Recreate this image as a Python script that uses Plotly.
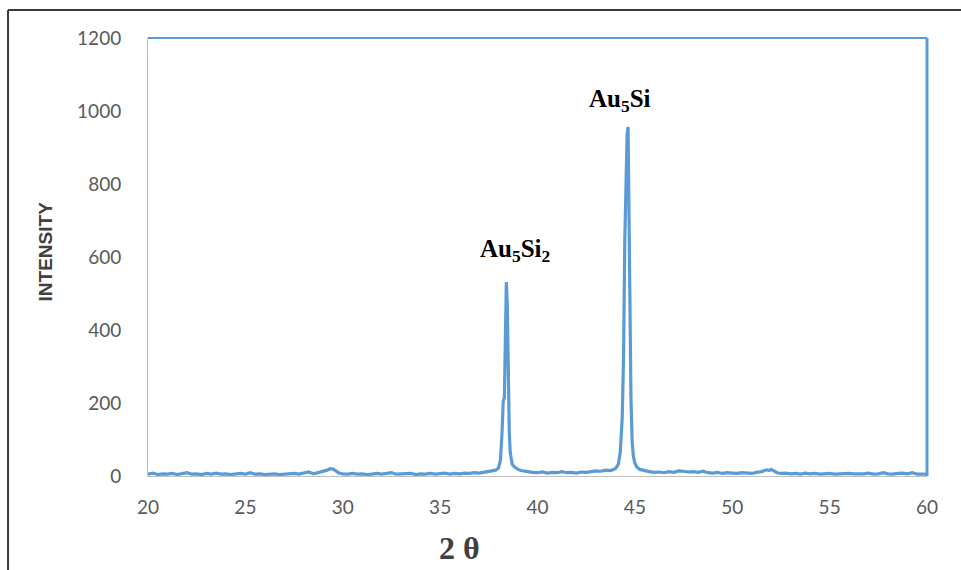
import plotly.graph_objects as go

# XRD scan: diffraction angle (2θ, degrees) and counts
two_theta = [
    20.0, 20.25, 20.5, 20.75, 21.0, 21.25, 21.5, 21.75, 22.0, 22.25, 22.5, 22.75,
    23.0, 23.25, 23.5, 23.75, 24.0, 24.25, 24.5, 24.75, 25.0, 25.25, 25.5, 25.75,
    26.0, 26.25, 26.5, 26.75, 27.0, 27.25, 27.5, 27.75, 28.0, 28.25, 28.5, 28.75,
    29.0, 29.2, 29.35, 29.5, 29.65, 29.8, 30.0, 30.25, 30.5, 30.75, 31.0, 31.25,
    31.5, 31.75, 32.0, 32.25, 32.5, 32.75, 33.0, 33.25, 33.5, 33.75, 34.0, 34.25,
    34.5, 34.75, 35.0, 35.25, 35.5, 35.75, 36.0, 36.25, 36.5, 36.75, 37.0, 37.25,
    37.5, 37.7, 37.85, 38.0, 38.1, 38.18, 38.24, 38.3, 38.35, 38.4, 38.45, 38.5,
    38.55, 38.6, 38.65, 38.7, 38.8, 38.9, 39.0, 39.15, 39.3, 39.5, 39.75, 40.0,
    40.25, 40.5, 40.75, 41.0, 41.25, 41.5, 41.75, 42.0, 42.25, 42.5, 42.75, 43.0,
    43.25, 43.5, 43.75, 44.0, 44.15, 44.25, 44.35, 44.42, 44.48, 44.54, 44.6, 44.65,
    44.7, 44.75, 44.8, 44.86, 44.92, 45.0, 45.1, 45.25, 45.5, 45.75, 46.0, 46.25,
    46.5, 46.75, 47.0, 47.25, 47.5, 47.75, 48.0, 48.25, 48.5, 48.75, 49.0, 49.25,
    49.5, 49.75, 50.0, 50.25, 50.5, 50.75, 51.0, 51.25, 51.5, 51.75, 51.9, 52.0,
    52.15, 52.3, 52.5, 52.75, 53.0, 53.25, 53.5, 53.75, 54.0, 54.25, 54.5, 54.75,
    55.0, 55.25, 55.5, 55.75, 56.0, 56.25, 56.5, 56.75, 57.0, 57.25, 57.5, 57.75,
    58.0, 58.25, 58.5, 58.75, 59.0, 59.25, 59.5, 59.75, 60.0,
]
intensity = [
    5, 8, 4, 6, 5, 7, 4, 6, 9, 5, 6, 4,
    7, 5, 8, 5, 6, 4, 5, 7, 5, 9, 5, 6,
    4, 5, 6, 4, 5, 6, 7, 5, 8, 11, 6, 10,
    12, 16, 20, 19, 14, 8, 6, 5, 7, 5, 6, 4,
    5, 7, 5, 6, 9, 5, 6, 5, 7, 4, 6, 5,
    7, 5, 6, 8, 5, 7, 6, 8, 7, 9, 8, 10,
    11, 13, 16, 22, 45, 120, 205, 215, 390, 531, 470, 250,
    120, 65, 42, 32, 26, 21, 18, 15, 13, 12, 10, 9,
    11, 8, 10, 9, 12, 9, 10, 8, 11, 10, 12, 14,
    13, 16, 15, 20, 32, 65, 160, 330, 640, 820, 935, 956,
    720, 420, 210, 95, 55, 35, 25, 18, 14, 12, 10, 11,
    9, 12, 10, 14, 13, 11, 12, 10, 13, 9, 8, 10,
    7, 9, 8, 7, 9, 8, 7, 10, 12, 17, 15, 18,
    14, 9, 7, 8, 6, 7, 5, 8, 6, 7, 5, 6,
    7, 5, 6, 5, 7, 6, 5, 6, 8, 5, 6, 9,
    6, 5, 7, 8, 6, 9, 5, 6, 5,
]

# Phase labels placed above their reflections
phase_labels = ["Au<sub>5</sub>Si<sub>2</sub>", "Au<sub>5</sub>Si"]
phase_x = [38.85, 44.25]
phase_y = [618, 1030]

x_ticks = [20, 25, 30, 35, 40, 45, 50, 55, 60]
y_ticks = [0, 200, 400, 600, 800, 1000, 1200]

line_blue = "#5b9bd5"
tick_grey = "#595959"

fig = go.Figure()
fig.add_trace(go.Scatter(
    x=two_theta, y=intensity, mode="lines",
    line=dict(color=line_blue, width=3.2), hoverinfo="x+y", showlegend=False,
))

for text, xv, yv in zip(phase_labels, phase_x, phase_y):
    fig.add_annotation(
        x=xv, y=yv, text=f"<b>{text}</b>", showarrow=False,
        xanchor="center", yanchor="middle",
        font=dict(family="Liberation Serif, Times New Roman, serif", size=25, color="#000000"),
    )

# Axis titles
fig.add_annotation(
    xref="paper", yref="paper", x=-0.131, y=0.5126, text="<b>INTENSITY</b>",
    textangle=-90, showarrow=False, xanchor="center", yanchor="middle",
    font=dict(family="Liberation Sans, Arial, sans-serif", size=19, color="#404040"),
)
fig.add_annotation(
    xref="paper", yref="paper", x=0.4, y=-0.164, text="<b>2 θ</b>",
    showarrow=False, xanchor="center", yanchor="middle",
    font=dict(family="Liberation Serif, Times New Roman, serif", size=32, color="#404040"),
)

# Blue frame on the top and right edges of the plot area
fig.add_shape(type="line", xref="paper", yref="paper", x0=0, x1=1, y0=1, y1=1,
              line=dict(color=line_blue, width=2))
fig.add_shape(type="line", xref="paper", yref="paper", x0=1, x1=1, y0=0, y1=1,
              line=dict(color=line_blue, width=3))

# Dark outer border of the chart area
fig.add_shape(type="line", xref="paper", yref="paper", x0=-0.1797, x1=1.1, y0=1.064, y1=1.064,
              line=dict(color="#3a3a3a", width=2))
fig.add_shape(type="line", xref="paper", yref="paper", x0=-0.1797, x1=-0.1797, y0=-0.3, y1=1.064,
              line=dict(color="#3a3a3a", width=2))

tick_font = dict(family="Lato, Open Sans, sans-serif", size=19, color=tick_grey)

fig.update_xaxes(
    range=[20, 60], tickvals=x_ticks, ticktext=[str(v) for v in x_ticks],
    showgrid=False, zeroline=False, showline=True, linecolor="#bfbfbf", linewidth=1,
    ticks="", tickfont=tick_font, ticklabelstandoff=14,
)
fig.update_yaxes(
    range=[0, 1200], tickvals=y_ticks, ticktext=[str(v) for v in y_ticks],
    showgrid=False, zeroline=False, showline=True, linecolor="#bfbfbf", linewidth=1,
    ticks="", tickfont=tick_font, ticklabelstandoff=22,
)

fig.update_layout(
    width=961, height=570,
    margin=dict(l=148, r=34, t=38, b=94),
    paper_bgcolor="#ffffff", plot_bgcolor="#ffffff",
)

fig.write_html("out.html")
